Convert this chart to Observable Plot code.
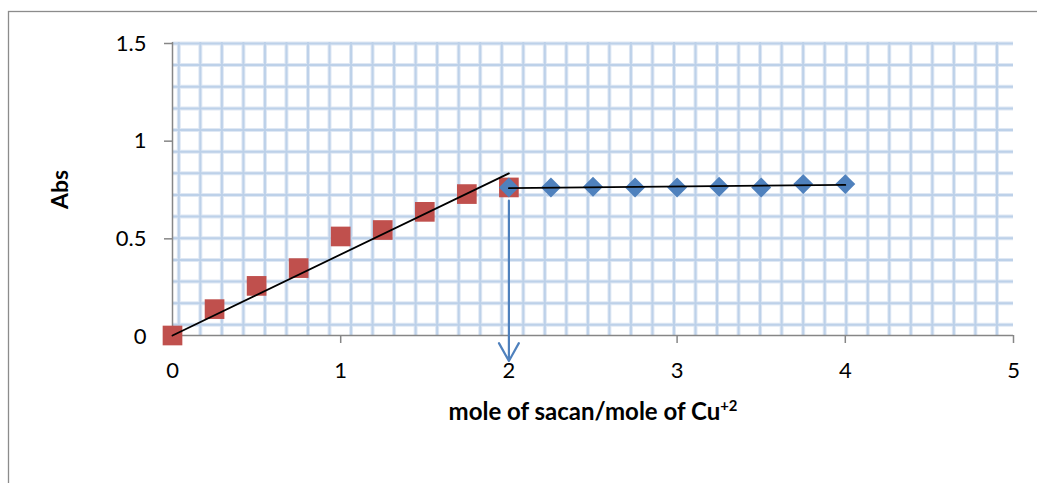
<!DOCTYPE html>
<html>
<head>
<meta charset="utf-8">
<script src="https://cdn.jsdelivr.net/npm/d3@7"></script>
<script src="https://cdn.jsdelivr.net/npm/@observablehq/plot@0.6"></script>
<style>
  html, body { margin: 0; padding: 0; background: #fff; }
  #chart svg { display: block; }
</style>
</head>
<body>
<div id="chart"></div>
<script>
// Mole-ratio titration: absorbance vs. mole of sacan per mole of Cu(II)
const ratioRising = [0, 0.25, 0.5, 0.75, 1, 1.25, 1.5, 1.75, 2];
const absRising   = [0, 0.135, 0.254, 0.345, 0.507, 0.54, 0.633, 0.724, 0.758];

const ratioPlateau = [2, 2.25, 2.5, 2.75, 3, 3.25, 3.5, 3.75, 4];
const absPlateau   = [0.758, 0.758, 0.761, 0.758, 0.758, 0.761, 0.758, 0.775, 0.775];

// fitted straight lines through each region
const fitRising  = [{x: 0, y: 0}, {x: 2, y: 0.83}];
const fitPlateau = [{x: 2, y: 0.754}, {x: 4, y: 0.771}];

// arrow marking the break point on the ratio axis
const breakPoint = [{x: 2, y1: 0.69, y2: -0.131}];

const xTicks = [0, 1, 2, 3, 4, 5];
const yTicks = [0, 0.5, 1, 1.5];

// square background pattern of the plot area (in data units)
const patternX = d3.range(39).map(k => 0.0375 + 0.128 * k);
const patternY = d3.range(14).map(k => 1.495 - 0.1108 * k);

const rising  = ratioRising.map((x, i) => ({x, y: absRising[i]}));
const plateau = ratioPlateau.map((x, i) => ({x, y: absPlateau[i]}));

const axisGray = "#868686";
const patternHalo = "#dfe8f4";
const patternCore = "#bdd1e9";

const chart = Plot.plot({
  width: 1037,
  height: 483,
  marginLeft: 172,
  marginRight: 24,
  marginTop: 42,
  marginBottom: 148,
  style: {fontFamily: "Lato, 'Open Sans', sans-serif", color: "#000", background: "#fff"},
  x: {domain: [0, 5]},
  y: {domain: [0, 1.5]},
  marks: [
    Plot.gridX(patternX, {stroke: patternHalo, strokeOpacity: 1, strokeWidth: 4}),
    Plot.gridY(patternY, {stroke: patternHalo, strokeOpacity: 1, strokeWidth: 4}),
    Plot.gridX(patternX, {stroke: patternCore, strokeOpacity: 1, strokeWidth: 2}),
    Plot.gridY(patternY, {stroke: patternCore, strokeOpacity: 1, strokeWidth: 2}),
    Plot.ruleX([0], {y1: 0, y2: 1.5, stroke: axisGray, strokeWidth: 1.5}),
    Plot.ruleY([0], {x1: 0, x2: 5, stroke: axisGray, strokeWidth: 1.5}),
    Plot.axisY(yTicks, {
      tickSize: 8, tickPadding: 18, fontSize: 22, stroke: axisGray, strokeWidth: 1.5,
      tickFormat: d => String(d), label: null, fill: "#000", dy: 1
    }),
    Plot.axisX(xTicks, {
      tickSize: 8, tickPadding: 19, fontSize: 22, stroke: axisGray, strokeWidth: 1.5,
      tickFormat: d => String(d), label: null, fill: "#000"
    }),
    Plot.arrow(breakPoint, {
      x1: "x", x2: "x", y1: "y1", y2: "y2",
      stroke: "#4f81bd", strokeWidth: 2.2, headLength: 14, headAngle: 58
    }),
    Plot.dot(rising, {x: "x", y: "y", symbol: "square", r: 11.1, fill: "#c0504d", stroke: "none"}),
    Plot.dot(plateau, {x: "x", y: "y", symbol: "diamond2", r: 9, fill: "#4f81bd", stroke: "none"}),
    Plot.line(fitRising, {x: "x", y: "y", stroke: "#000", strokeWidth: 1.8}),
    Plot.line(fitPlateau, {x: "x", y: "y", stroke: "#000", strokeWidth: 1.8}),
    Plot.text(["mole of sacan/mole of Cu"], {
      frameAnchor: "bottom", textAnchor: "middle", lineAnchor: "bottom", dy: 84,
      fontSize: 24, fontWeight: "bold", fill: "#000", className: "xtitle"
    }),
    Plot.text(["Abs"], {
      frameAnchor: "left", textAnchor: "middle", lineAnchor: "middle", rotate: -90,
      dx: -112, dy: 0.5, fontSize: 23, fontWeight: "bold", fill: "#000"
    })
  ]
});

// superscript charge on the copper ion
d3.select(chart).select("g.xtitle text")
  .append("tspan")
  .attr("dy", "-0.55em")
  .attr("font-size", "0.62em")
  .text("+2");

// outer chart border
d3.select(chart).append("rect")
  .attr("x", 8.5).attr("y", 11.5)
  .attr("width", 1100).attr("height", 600)
  .attr("fill", "none")
  .attr("stroke", "#8c8c8c")
  .attr("stroke-width", 1.3);

document.getElementById("chart").appendChild(chart);
</script>
</body>
</html>
